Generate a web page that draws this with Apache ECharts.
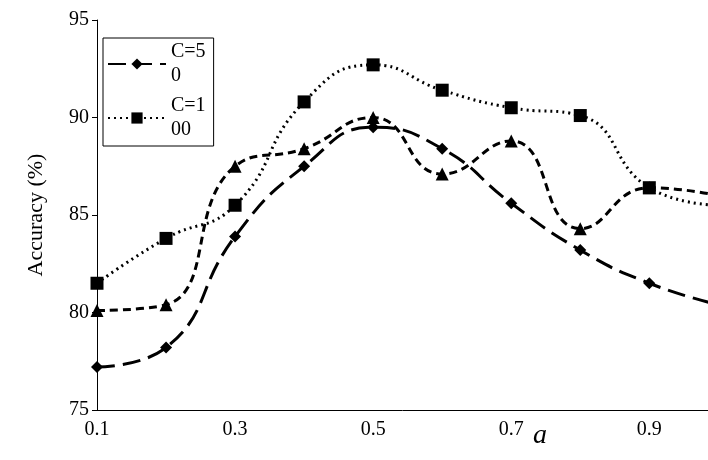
<!DOCTYPE html>
<html><head><meta charset="utf-8">
<script src="https://cdn.jsdelivr.net/npm/echarts@6/dist/echarts.min.js"></script>
<style>html,body{margin:0;padding:0;background:#fff}#c{width:708px;height:460px}</style>
</head><body><div id="c"></div>
<script>
const xs=[0.1,0.2,0.3,0.4,0.5,0.6,0.7,0.8,0.9,1.0];
const c50=[77.2,78.2,83.9,87.5,89.5,88.4,85.6,83.2,81.5,80.4];
const c100=[81.5,83.8,85.5,90.8,92.7,91.4,90.5,90.1,86.4,85.5];
const c3=[80.1,80.4,87.5,88.4,90.0,87.1,88.8,84.3,86.4,86.0];
const pair=a=>xs.map((x,i)=>[x,a[i]]);
const F='"Liberation Serif", "Times New Roman", serif';
const ch=echarts.init(document.getElementById('c'));
ch.setOption({
 animation:false,
 textStyle:{fontFamily:F},
 grid:{left:97,top:20,bottom:50,right:0},
 xAxis:{type:'value',min:0.1,max:0.985,interval:0.1,
  axisLine:{lineStyle:{color:'#000'}},axisTick:{show:false},splitLine:{show:false},
  axisLabel:{color:'#000',fontFamily:F,fontSize:20,margin:10,showMaxLabel:false,
   formatter:v=>{const r=Math.round(v*10);return r%2===1?(r/10).toFixed(1):'';}}},
 yAxis:{type:'value',min:75,max:95,interval:5,name:'Accuracy (%)',nameLocation:'middle',nameGap:50,
  nameTextStyle:{color:'#000',fontFamily:F,fontSize:22},
  axisLine:{show:true,lineStyle:{color:'#000'}},axisTick:{show:true,lineStyle:{color:'#000'}},splitLine:{show:false},
  axisLabel:{color:'#000',fontFamily:F,fontSize:20}},
 legend:{left:103,top:38,orient:'vertical',itemWidth:58,itemHeight:14,itemGap:6,
  padding:[2,8,4,4],borderColor:'#000',borderWidth:1,backgroundColor:'#fff',
  textStyle:{color:'#000',fontFamily:F,fontSize:20,lineHeight:24},
  formatter:n=>n==='C=50'?'C=5\n0':'C=1\n00',data:['C=50','C=100']},
 graphic:[{type:'text',left:533,top:422,style:{text:'a',font:'italic 28px "Liberation Serif"',fill:'#000'}}],
 series:[
  {name:'C=50',type:'line',smooth:true,data:pair(c50),symbol:'diamond',symbolSize:12,
   lineStyle:{color:'#000',width:3,type:[18,8]},itemStyle:{color:'#000'},clip:true},
  {name:'C=100',type:'line',smooth:true,data:pair(c100),symbol:'rect',symbolSize:13,
   lineStyle:{color:'#000',width:3,type:[2,4]},itemStyle:{color:'#000'},clip:true},
  {name:'C3',type:'line',smooth:true,data:pair(c3),symbol:'triangle',symbolSize:13,
   lineStyle:{color:'#000',width:3,type:[8,5]},itemStyle:{color:'#000'},clip:true}
 ]
});
</script></body></html>
